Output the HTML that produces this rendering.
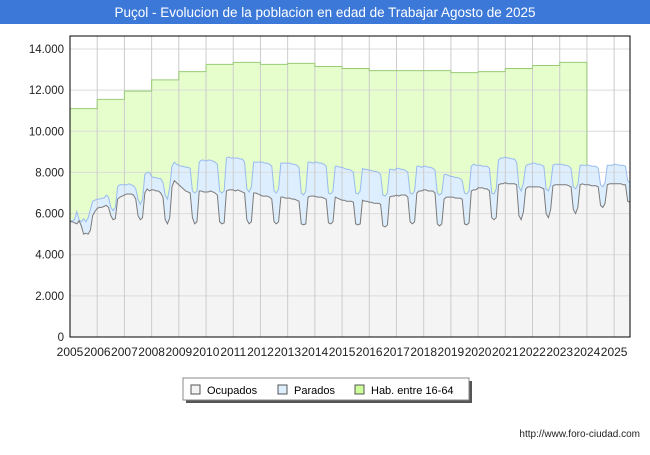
<!DOCTYPE html>
<html><head><meta charset="utf-8"><style>
body{margin:0;width:650px;height:450px;background:#fff;font-family:"Liberation Sans",sans-serif;overflow:hidden}
</style></head><body>
<svg width="650" height="450" xmlns="http://www.w3.org/2000/svg" font-family="Liberation Sans, sans-serif">
<rect x="0" y="0" width="650" height="24" fill="#3c78d8"/>
<text x="325" y="17" text-anchor="middle" fill="#fff" font-size="13.5">Puçol - Evolucion de la poblacion en edad de Trabajar Agosto de 2025</text>
<g id="plot"></g>
<g>
<rect x="186" y="381" width="286" height="22" fill="#555"/>
<rect x="183" y="378" width="286" height="22" fill="#fff" stroke="#888"/>
<rect x="191" y="385" width="9" height="9" fill="#f4f4f4" stroke="#555"/>
<text x="207" y="394" font-size="11">Ocupados</text>
<rect x="278" y="385" width="9" height="9" fill="#ddeeff" stroke="#555"/>
<text x="294" y="394" font-size="11">Parados</text>
<rect x="355" y="385" width="9" height="9" fill="#ccff99" stroke="#555"/>
<text x="371" y="394" font-size="11">Hab. entre 16-64</text>
</g>
<text x="640" y="437" text-anchor="end" font-size="10" fill="#222">http://www.foro-ciudad.com</text>
</svg>
<script>
const yearLabels=["2005","2006","2007","2008","2009","2010","2011","2012","2013","2014","2015","2016","2017","2018","2019","2020","2021","2022","2023","2024","2025"];
const yTicks=[0,2000,4000,6000,8000,10000,12000,14000];
const yTickLabels=["0","2.000","4.000","6.000","8.000","10.000","12.000","14.000"];
const habYears=[11100,11550,11950,12500,12900,13250,13350,13250,13300,13150,13050,12950,12950,12950,12850,12900,13050,13200,13350];
const ocupados=[
5600,5600,5550,5500,5650,5400,5000,5050,5000,5200,5900,6100,
6250,6300,6300,6350,6400,6300,5900,5700,5750,6700,6800,6850,
6900,6950,6950,6950,6900,6700,5900,5700,5800,7000,7200,7100,
7150,7150,7100,7100,7000,6800,5700,5500,5800,7300,7600,7500,
7400,7300,7200,7100,7050,7000,5800,5500,5600,7100,7100,7050,
7050,7050,7100,7050,7000,6900,5600,5500,5550,7100,7150,7150,
7150,7100,7150,7100,7050,7000,5700,5500,5600,7000,7000,6950,
6900,6850,6850,6850,6800,6700,5600,5500,5600,6800,6800,6750,
6750,6750,6700,6700,6650,6600,5500,5450,5500,6800,6850,6850,
6850,6800,6800,6800,6750,6700,5550,5500,5600,6800,6750,6700,
6650,6650,6600,6600,6600,6550,5500,5450,5500,6650,6600,6600,
6550,6550,6500,6500,6500,6450,5400,5350,5450,6800,6850,6850,
6900,6850,6900,6900,6900,6800,5600,5500,5600,7000,7100,7100,
7150,7150,7100,7100,7100,7000,5500,5400,5500,6700,6800,6800,
6800,6800,6750,6750,6750,6700,5500,5450,5550,7100,7150,7150,
7250,7250,7250,7200,7200,7100,5800,5700,5800,7400,7450,7450,
7500,7450,7450,7450,7450,7400,5900,5700,6100,7200,7300,7300,
7300,7300,7300,7300,7250,7200,6000,5800,6200,7350,7400,7400,
7400,7400,7400,7400,7350,7300,6200,6000,6300,7400,7450,7400,
7400,7400,7350,7350,7350,7300,6400,6300,6500,7400,7450,7450,
7450,7450,7450,7450,7400,7400,6600,6550];
const activos=[
5650,5650,5700,6100,5700,5600,5750,5600,5800,6200,6600,6650,
6700,6700,6750,6750,6900,6800,6300,6150,6300,7300,7400,7400,
7400,7400,7450,7400,7350,7200,6700,6450,6700,7900,8000,8000,
7800,7750,7750,7700,7700,7500,6900,6700,7300,8300,8500,8400,
8350,8300,8300,8250,8250,8200,7100,7000,7100,8500,8600,8600,
8550,8600,8600,8550,8500,8400,7100,7000,7100,8700,8750,8700,
8700,8700,8700,8650,8650,8500,7200,7050,7300,8500,8500,8500,
8500,8500,8450,8450,8400,8300,7100,7000,7200,8450,8450,8450,
8450,8450,8400,8400,8350,8250,7000,6900,7100,8500,8500,8450,
8500,8500,8450,8450,8400,8300,7000,6950,7100,8300,8300,8250,
8250,8200,8150,8150,8100,8000,7000,6950,7100,8200,8150,8150,
8100,8100,8050,8050,8000,7900,6900,6850,7000,8150,8150,8100,
8200,8200,8150,8150,8100,8000,7000,6950,7100,8300,8300,8250,
8300,8300,8250,8250,8200,8100,7000,6900,7000,7900,7900,7850,
7800,7800,7750,7750,7700,7600,7000,6950,7100,8300,8400,8350,
8350,8350,8300,8300,8300,8200,7000,6950,7200,8600,8700,8700,
8750,8700,8700,8650,8650,8500,7300,7100,7500,8300,8400,8400,
8450,8450,8400,8400,8350,8300,7200,7100,7400,8350,8400,8400,
8400,8400,8350,8350,8300,8200,7300,7200,7400,8350,8350,8350,
8350,8350,8300,8300,8300,8200,7400,7300,7500,8350,8350,8350,
8400,8400,8350,8350,8350,8300,7600,7500];

const NS="http://www.w3.org/2000/svg";
const L=70,R=630,T=36,B=337,YMAX=14000;
const nM=ocupados.length;
const xM=i=>L+i*(R-L)/(nM-1);
const xY=y=>L+y*12*(R-L)/(nM-1);
const yV=v=>B-v*(B-49)/YMAX;
const plot=document.getElementById('plot');
function mk(tag,attrs){const e=document.createElementNS(NS,tag);for(const k in attrs)e.setAttribute(k,attrs[k]);plot.appendChild(e);return e;}

const bg=mk('rect',{x:L,y:T,width:R-L,height:B-T,fill:'#fff'});



let habPts=[];
habYears.forEach((v,i)=>{habPts.push([xY(i),yV(v)]);habPts.push([xY(i+1),yV(v)]);});
const endIdx=habYears.length*12;
habPts.push([xM(endIdx),yV(activos[endIdx])]);
let habD="M"+xY(0)+","+B+" "+habPts.map(p=>"L"+p[0]+","+p[1]).join(" ")+" L"+xM(endIdx)+","+B+" Z";
const hf=mk('path',{d:habD,fill:'#e6fdcc'});



const totPts=activos.map((v,i)=>[xM(i),yV(v)]);
const occPts=ocupados.map((v,i)=>[xM(i),yV(v)]);
const area=p=>"M"+L+","+B+" "+p.map(q=>"L"+q[0]+","+q[1]).join(" ")+" L"+R+","+B+" Z";
const tf=mk('path',{d:area(totPts),fill:'#ddeeff'});


const of=mk('path',{d:area(occPts),fill:'#f4f4f4'});



yTicks.forEach((t,i)=>{
 const g=mk('line',{x1:L,x2:R,y1:yV(t),y2:yV(t),stroke:'#dcdcdc','stroke-width':1});
 
 
 const tx=mk('text',{x:L-6,y:yV(t)+4,'text-anchor':'end','font-size':11.5,fill:'#222'});
 tx.textContent=yTickLabels[i];
 
 
});
yearLabels.forEach((lab,i)=>{
 if(i>0){const g=mk('line',{x1:xY(i),x2:xY(i),y1:T,y2:B,stroke:'#cccccc','stroke-width':1});
 
 }
 const tx=mk('text',{x:xY(i),y:356,'text-anchor':'middle','font-size':12,fill:'#222'});
 tx.textContent=lab;
 
 
});

const line=p=>"M"+p.map(q=>q[0]+","+q[1]).join(" L");
const hl=mk('path',{d:"M"+xY(0)+","+B+" L"+habPts.map(q=>q[0]+","+q[1]).join(" L"),fill:'none',stroke:'#99cc77','stroke-width':1});


const tl=mk('path',{d:line(totPts),fill:'none',stroke:'#99bbee','stroke-width':1});


const ol=mk('path',{d:line(occPts),fill:'none',stroke:'#7a7a7a','stroke-width':1});



const fr=mk('rect',{x:L,y:T,width:R-L,height:B-T,fill:'none',stroke:'#000','stroke-width':1});


</script>
</body></html>
